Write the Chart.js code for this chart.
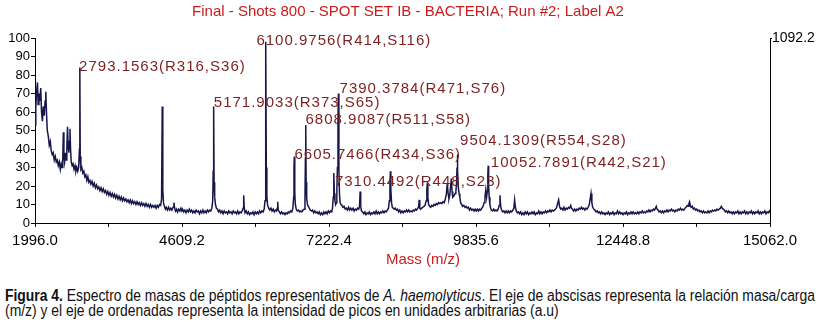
<!DOCTYPE html>
<html>
<head>
<meta charset="utf-8">
<script src="https://cdn.jsdelivr.net/npm/chart.js@4.4.1/dist/chart.umd.min.js"></script>
<style>
  body { margin: 0; background: #fff; width: 821px; height: 322px; overflow: hidden; position: relative; }
  #grafico { position: absolute; left: 0; top: 0; }
  #leyenda {
    position: absolute; left: 5px; top: 289px;
    font-family: "Liberation Sans", Arial, sans-serif;
    font-size: 16px; line-height: 14.5px; color: #111; white-space: nowrap;
    transform-origin: 0 0;
  }
</style>
</head>
<body>
<canvas id="grafico" width="821" height="282"></canvas>
<div id="leyenda">
  <div id="lineaUno"><b>Figura 4.</b> Espectro de masas de péptidos representativos de <i>A. haemolyticus</i>. El eje de abscisas representa la relación masa/carga</div>
  <div>(m/z) y el eje de ordenadas representa la intensidad de picos en unidades arbitrarias (a.u)</div>
</div>
<script>
const titulo = 'Final - Shots 800 - SPOT SET IB - BACTERIA; Run #2; Label A2';
const tituloEjeX = 'Mass (m/z)';
const masaMin = 1996.0;
const masaMax = 15062.0;
const ticksMasa = [1996.0, 3302.6, 4609.2, 5915.8, 7222.4, 8529.0, 9835.6, 11142.2, 12448.8, 13755.4, 15062.0];
const intensidadMaxima = 1092.2;

const espectroBajo = [
  [1996, 53], [2010, 62], [2022, 70], [2040, 76], [2052, 64], [2066, 70], [2082, 66], [2098, 73], [2112, 60],
  [2128, 55], [2142, 63], [2160, 58], [2176, 66], [2188, 71], [2200, 60], [2214, 50], [2232, 47], [2250, 42],
  [2268, 44], [2285, 39], [2302, 37], [2320, 38], [2338, 34], [2356, 36], [2374, 33], [2392, 34], [2410, 31],
  [2428, 33], [2446, 29], [2462, 32], [2478, 30], [2490, 35], [2500, 49], [2510, 36], [2522, 33], [2536, 38],
  [2550, 34], [2562, 40], [2574, 52], [2586, 41], [2598, 38], [2608, 44], [2618, 51], [2628, 40], [2640, 33],
  [2656, 31], [2672, 32], [2690, 29], [2708, 31], [2724, 28], [2740, 30], [2756, 28], [2772, 30], [2786, 40],
  [2793, 84], [2800, 36], [2812, 29], [2828, 30], [2846, 27], [2864, 28], [2882, 25], [2900, 26], [2918, 23],
  [2936, 25], [2954, 22], [2972, 23], [2990, 21], [3010, 22.5], [3030, 20], [3050, 21.5], [3070, 19], [3090, 20.5],
  [3110, 18.5], [3130, 19.5], [3150, 17.5], [3170, 19], [3190, 17], [3210, 18.5], [3230, 16.5], [3250, 17.5],
  [3270, 15.5], [3290, 17], [3310, 15], [3330, 16.5], [3350, 14.5], [3370, 16], [3390, 14], [3410, 15.5],
  [3430, 13.5], [3450, 15], [3470, 13], [3490, 14.5], [3510, 12.5], [3530, 14], [3550, 12], [3570, 13.5],
  [3590, 12], [3610, 13], [3630, 11.5], [3650, 12.5], [3670, 11], [3690, 12.5], [3710, 10.5], [3730, 12],
  [3750, 10.5], [3770, 11.5], [3790, 10], [3810, 11.5], [3830, 10], [3850, 11], [3870, 9.5], [3890, 11],
  [3910, 9.5], [3930, 10.5], [3950, 9], [3970, 10.5], [3990, 9], [4010, 10], [4030, 8.5], [4050, 10],
  [4070, 8.5], [4090, 9.5], [4110, 8.5], [4130, 9.5], [4150, 8], [4170, 9.5], [4190, 8.5], [4210, 10],
  [4230, 9.5], [4246, 13], [4258, 63], [4268, 18], [4280, 11], [4296, 9], [4314, 7.5], [4330, 8.5], [4350, 7],
  [4370, 8.5], [4390, 7], [4410, 8], [4430, 7], [4450, 8.5], [4466, 11], [4478, 8], [4494, 6.5], [4510, 7.5],
  [4530, 6], [4550, 7.5], [4570, 6.5], [4590, 8], [4606, 6.5]
];

const espectroMedio = [
  [4620, 7.5], [4640, 6], [4660, 7], [4680, 5.5], [4700, 7], [4720, 6], [4740, 7.5], [4760, 6], [4780, 7],
  [4800, 5.5], [4820, 6.5], [4840, 5.5], [4860, 7], [4880, 6], [4900, 6.5], [4920, 5], [4940, 6.5], [4960, 5.5],
  [4980, 7], [5000, 5.5], [5020, 6.5], [5040, 5.5], [5060, 7], [5080, 6], [5100, 7], [5120, 6.5], [5140, 8],
  [5155, 12], [5164, 28], [5172, 63], [5180, 22], [5190, 14], [5204, 10], [5220, 8], [5240, 7.5], [5260, 6],
  [5280, 7], [5300, 5.5], [5320, 6.5], [5340, 5], [5360, 6.5], [5380, 5.5], [5400, 6], [5420, 5], [5440, 6.5],
  [5460, 5.5], [5480, 6], [5500, 5], [5520, 6.5], [5540, 5.5], [5560, 6], [5580, 5], [5600, 6.5], [5620, 5],
  [5640, 6], [5660, 5.5], [5680, 6.5], [5695, 8], [5706, 15], [5716, 8], [5730, 5.5], [5750, 6.5], [5770, 5],
  [5790, 6], [5810, 4.5], [5830, 5.5], [5850, 5], [5870, 6], [5890, 4.5], [5910, 6], [5930, 5], [5950, 6],
  [5970, 5], [5990, 6.5], [6010, 5.5], [6030, 6.5], [6050, 6], [6070, 7.5], [6085, 12], [6094, 35], [6101, 98],
  [6108, 30], [6118, 14], [6132, 9.5], [6150, 8], [6170, 7], [6190, 8], [6210, 6.5], [6230, 7.5], [6250, 6],
  [6270, 7], [6290, 6.5], [6302, 8], [6311, 11.5], [6320, 7], [6340, 6], [6360, 5], [6380, 6], [6400, 5],
  [6420, 5.5], [6440, 4.5], [6460, 5.5], [6480, 5], [6500, 6], [6520, 5.5], [6540, 6.5], [6560, 6], [6580, 8],
  [6594, 14], [6600, 30], [6606, 36], [6614, 16], [6624, 10], [6640, 7.5], [6660, 6.5], [6680, 7], [6700, 6],
  [6720, 6.5], [6740, 6], [6760, 7], [6780, 7.5], [6795, 12], [6803, 35], [6809, 53], [6816, 22], [6826, 13],
  [6840, 10], [6856, 9], [6872, 8], [6890, 7], [6910, 6.5], [6930, 7], [6950, 5.5], [6970, 6.5], [6990, 5.5]
];

const espectroAlto = [
  [7010, 6], [7030, 5], [7050, 6], [7070, 4.5], [7090, 5.5], [7110, 4.5], [7130, 6], [7150, 5], [7170, 6],
  [7190, 5], [7210, 6.5], [7230, 5.5], [7250, 6.5], [7270, 6], [7285, 8], [7298, 14], [7305, 24], [7310, 27],
  [7318, 16], [7328, 12], [7340, 10], [7352, 11], [7362, 18], [7372, 30], [7382, 55], [7390, 70], [7398, 30],
  [7408, 16], [7420, 11], [7436, 10], [7452, 9.5], [7470, 8.5], [7490, 9], [7510, 7.5], [7530, 8], [7550, 7],
  [7570, 8.5], [7590, 7], [7610, 8], [7630, 7], [7650, 8], [7670, 6.5], [7690, 7.5], [7710, 7], [7730, 8],
  [7750, 7.5], [7765, 9], [7776, 17], [7786, 9], [7800, 6.5], [7820, 6], [7840, 5], [7860, 6], [7880, 4.5],
  [7900, 5.5], [7920, 5], [7940, 6], [7960, 4.5], [7980, 5.5], [8000, 5], [8020, 6], [8040, 5], [8060, 6.5],
  [8080, 5], [8100, 6], [8120, 5], [8140, 6], [8160, 5.5], [8180, 6.5], [8200, 5.5], [8220, 6.5], [8240, 6],
  [8260, 7], [8280, 8], [8295, 12], [8306, 22], [8314, 28], [8322, 18], [8334, 11], [8348, 8.5], [8364, 8],
  [8380, 7.5], [8400, 8], [8420, 7], [8440, 7.5], [8460, 6], [8480, 7], [8500, 5.5], [8520, 6.5], [8540, 5.5],
  [8560, 6.5], [8580, 6], [8600, 7], [8620, 6], [8640, 7], [8660, 6], [8680, 6.5], [8700, 6], [8720, 7],
  [8740, 6.5], [8760, 7.5], [8780, 7], [8800, 8], [8815, 8.5], [8826, 12.5], [8836, 8], [8850, 7.5], [8870, 8],
  [8890, 8.5], [8910, 9], [8930, 9.5], [8950, 12], [8962, 18], [8970, 21.5], [8980, 14], [8994, 10], [9010, 9],
  [9030, 8.5], [9050, 9.5], [9070, 9], [9090, 10], [9110, 9.5], [9130, 10.5], [9150, 10], [9170, 11],
  [9190, 10.5], [9210, 11], [9230, 10.5], [9250, 11.5], [9270, 11], [9290, 13], [9310, 16], [9325, 21.5],
  [9340, 16], [9355, 13], [9370, 15], [9384, 20], [9398, 24], [9410, 17], [9422, 14], [9436, 14.5], [9450, 15],
  [9464, 16], [9478, 17], [9490, 22], [9498, 30], [9504, 37], [9512, 28], [9522, 19], [9534, 16], [9548, 14],
  [9562, 11], [9580, 10], [9600, 9], [9620, 9.5], [9640, 8.5], [9660, 9], [9680, 8], [9700, 8.5], [9720, 7],
  [9740, 8], [9760, 7], [9780, 7.5], [9800, 6.5], [9820, 7.5], [9840, 6.5], [9860, 7.5], [9880, 6.5], [9900, 7.5],
  [9920, 7], [9940, 8], [9960, 9], [9980, 11], [9995, 14], [10010, 18], [10024, 14], [10036, 17], [10046, 26],
  [10053, 31], [10060, 20], [10070, 14], [10082, 10], [10096, 8]
];

const espectroCola = [
  [10110, 7], [10130, 6.5], [10150, 7.5], [10170, 6.5], [10190, 7], [10210, 6.5], [10230, 7.5], [10248, 9.5],
  [10262, 15], [10274, 9], [10290, 7], [10310, 6], [10330, 6.5], [10350, 5.5], [10370, 6.5], [10390, 5.5],
  [10410, 6.5], [10430, 5.5], [10450, 6.5], [10470, 6], [10490, 7], [10508, 8], [10522, 12.5], [10536, 8.5],
  [10552, 6.5], [10570, 5.5], [10590, 6], [10610, 5], [10630, 6], [10650, 4.5], [10670, 5.5], [10690, 4.5],
  [10710, 6], [10730, 5], [10750, 6], [10770, 4.5], [10790, 5.5], [10810, 5], [10830, 6], [10850, 5], [10870, 6],
  [10890, 4.5], [10910, 5.5], [10930, 5], [10950, 6.5], [10970, 5], [10990, 6], [11010, 5], [11030, 6],
  [11050, 5.5], [11070, 6.5], [11090, 5.5], [11110, 6.5], [11130, 6], [11150, 7], [11170, 6], [11190, 7],
  [11210, 6.5], [11230, 7], [11250, 7.5], [11270, 8.5], [11290, 11], [11305, 12.5], [11320, 9], [11340, 7.5],
  [11360, 8], [11380, 7], [11400, 8.5], [11420, 7], [11440, 8], [11460, 7.5], [11480, 8.5], [11500, 8],
  [11520, 9.5], [11535, 8], [11550, 7.5], [11570, 6.5], [11590, 7.5], [11610, 6.5], [11630, 7.5], [11650, 7],
  [11670, 8], [11690, 7.5], [11710, 8.5], [11730, 7.5], [11750, 8], [11770, 7], [11790, 8], [11810, 7.5],
  [11830, 8.5], [11850, 10], [11865, 13], [11880, 16], [11895, 11], [11910, 8.5], [11930, 7.5], [11950, 7],
  [11970, 6], [11990, 6.5], [12010, 5.5], [12030, 6], [12050, 5], [12070, 6], [12090, 5], [12110, 5.5],
  [12130, 4.5], [12150, 5.5], [12170, 5], [12190, 6], [12210, 4.5], [12230, 5.5], [12250, 5], [12270, 6],
  [12290, 4.5], [12310, 5.5], [12330, 5], [12350, 6.5], [12370, 5], [12390, 6], [12410, 5], [12430, 5.5],
  [12450, 4.5], [12470, 5.5], [12490, 5], [12510, 6], [12530, 4.5], [12550, 5.5], [12570, 5], [12590, 6],
  [12610, 5], [12630, 6], [12650, 5], [12670, 5.5], [12690, 5], [12710, 6], [12730, 5], [12750, 6], [12770, 5.5],
  [12790, 6.5], [12810, 5.5], [12830, 6], [12850, 5.5], [12870, 6.5], [12890, 6], [12910, 7], [12930, 6],
  [12950, 7], [12970, 6.5], [12990, 7.5], [13010, 7], [13025, 8], [13040, 9], [13055, 7.5], [13070, 7],
  [13090, 6], [13110, 6.5], [13130, 5.5], [13150, 6.5], [13170, 5.5], [13190, 6.5], [13210, 6], [13230, 7],
  [13250, 6], [13270, 7], [13290, 6.5], [13310, 7.5], [13330, 6.5], [13350, 7], [13370, 6], [13390, 7],
  [13410, 6.5], [13430, 7.5], [13450, 7], [13470, 8], [13490, 7], [13510, 7.5], [13530, 7], [13550, 8],
  [13570, 8.5], [13590, 9.5], [13605, 9], [13620, 10.5], [13632, 11.5], [13645, 9.5], [13660, 8.5], [13680, 9],
  [13700, 7.5], [13720, 8], [13740, 7], [13760, 7.5], [13780, 6.5], [13800, 7], [13820, 6], [13840, 6.5],
  [13860, 5.5], [13880, 6.5], [13900, 5.5], [13920, 6], [13940, 5.5], [13960, 6.5], [13980, 5.5], [14000, 6.5],
  [14020, 6], [14040, 7], [14060, 6.5], [14080, 7], [14100, 6.5], [14120, 7.5], [14140, 7], [14160, 7.5],
  [14180, 8], [14196, 9], [14212, 8], [14230, 7.5], [14250, 7], [14270, 6], [14290, 6.5], [14310, 5.5],
  [14330, 6.5], [14350, 5.5], [14370, 6], [14390, 5], [14410, 6], [14430, 5], [14450, 6], [14470, 5.5],
  [14490, 6.5], [14510, 5], [14530, 6], [14550, 5], [14570, 6], [14590, 5.5], [14610, 6.5], [14630, 5],
  [14650, 6], [14670, 5], [14690, 6], [14710, 5.5], [14730, 6.5], [14750, 5], [14770, 6], [14790, 5], [14810, 6],
  [14830, 5.5], [14850, 6.5], [14870, 5], [14890, 6], [14910, 5], [14930, 6], [14950, 5.5], [14970, 6.5],
  [14990, 5], [15010, 6], [15030, 5.5], [15050, 6.5], [15062, 5.5]
];

// etiquetas de picos: texto, masa e intensidad donde empieza el texto
const etiquetasPicos = [
  '2793.1563(R316,S36)', '6100.9756(R414,S116)', '7390.3784(R471,S76)', '5171.9033(R373,S65)',
  '6808.9087(R511,S58)', '6605.7466(R434,S36)', '7310.4492(R448,S23)', '9504.1309(R554,S28)',
  '10052.7891(R442,S21)'
];
const masaEtiquetas = [2780, 5932, 7410, 5175, 6805, 6609, 7327, 9553, 10100];
const intensidadEtiquetas = [84.5, 98.5, 72.4, 65, 56, 37.1, 22.3, 44.5, 32.3];

const puntosEspectro = [...espectroBajo, ...espectroMedio, ...espectroAlto, ...espectroCola]
  .map(p => ({ x: p[0], y: p[1] }));

const textosPlugin = {
  id: 'textosPlugin',
  afterDraw(chart) {
    const ctx = chart.ctx;
    const x = chart.scales.x;
    const y = chart.scales.y;
    ctx.save();
    ctx.textBaseline = 'middle';

    ctx.fillStyle = '#cc1b1b';
    ctx.font = '15px "Liberation Sans", Arial, sans-serif';
    ctx.textAlign = 'center';
    ctx.fillText(titulo, 408, 12);
    ctx.fillText(tituloEjeX, 423, 260);

    ctx.fillStyle = '#7d1f1f';
    ctx.textAlign = 'left';
    ctx.letterSpacing = '1px';
    etiquetasPicos.forEach((texto, i) => {
      ctx.fillText(texto, x.getPixelForValue(masaEtiquetas[i]), y.getPixelForValue(intensidadEtiquetas[i]));
    });
    ctx.restore();
  }
};

new Chart(document.getElementById('grafico').getContext('2d'), {
  type: 'line',
  data: {
    datasets: [{
      data: puntosEspectro,
      borderColor: '#16164a',
      borderWidth: 1.5,
      pointRadius: 0,
      tension: 0,
      fill: false
    }]
  },
  options: {
    responsive: false,
    animation: false,
    layout: { padding: { top: 38, left: 0, right: 0, bottom: 0 } },
    plugins: { legend: { display: false }, tooltip: { enabled: false }, title: { display: false } },
    scales: {
      x: {
        type: 'linear',
        min: masaMin,
        max: masaMax,
        afterBuildTicks: s => { s.ticks = ticksMasa.map(v => ({ value: v })); },
        afterFit: s => { s.height = 59; },
        ticks: {
          autoSkip: false,
          maxRotation: 0,
          padding: 5,
          color: '#000',
          font: { family: '"Liberation Sans", Arial, sans-serif', size: 15 },
          callback: (v, i) => (i % 2 === 0 ? Number(v).toFixed(1) : '')
        },
        grid: { drawOnChartArea: false, tickLength: 4, color: '#000' },
        border: { color: '#000', width: 1 }
      },
      y: {
        min: 0,
        max: 100,
        afterFit: s => { s.width = 35; },
        ticks: {
          stepSize: 10,
          autoSkip: false,
          padding: 1,
          color: '#000',
          font: { family: '"Liberation Sans", Arial, sans-serif', size: 13 }
        },
        grid: { drawOnChartArea: false, tickLength: 4, color: '#000' },
        border: { color: '#000', width: 1 }
      },
      y2: {
        position: 'right',
        min: 0,
        max: intensidadMaxima,
        afterBuildTicks: s => { s.ticks = [{ value: intensidadMaxima }]; },
        afterFit: s => { s.width = 51; },
        ticks: {
          padding: 0,
          color: '#000',
          font: { family: '"Liberation Sans", Arial, sans-serif', size: 14 },
          callback: v => Number(v).toFixed(1)
        },
        grid: { drawOnChartArea: false, tickLength: 2, color: '#000' },
        border: { color: '#000', width: 1 }
      }
    }
  },
  plugins: [textosPlugin]
});

// la leyenda va en letra estrecha: se comprime para ocupar 810 px
const leyenda = document.getElementById('leyenda');
const anchoLinea = document.getElementById('lineaUno').scrollWidth;
leyenda.style.transform = `scaleX(${810 / anchoLinea})`;
</script>
</body>
</html>
